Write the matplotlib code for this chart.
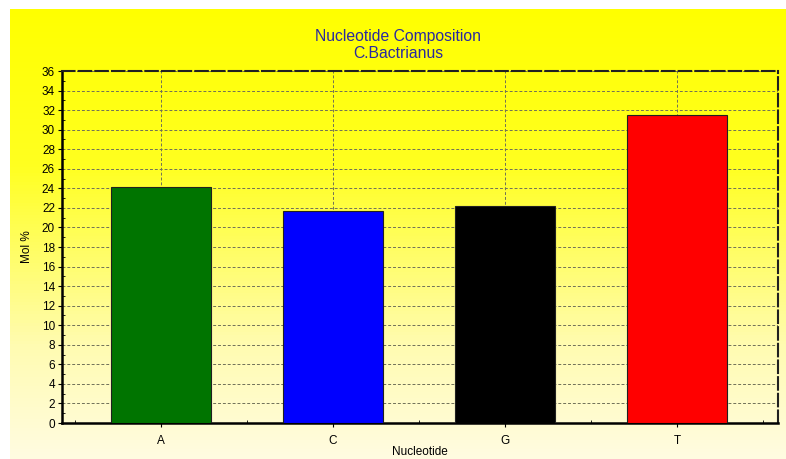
import numpy as np
import matplotlib
matplotlib.use("Agg")
import matplotlib.pyplot as plt
from matplotlib.colors import LinearSegmentedColormap

plt.rcParams['font.family'] = ['Liberation Sans', 'DejaVu Sans']

nucleotides = ['A', 'C', 'G', 'T']
mol_percent = [24.1, 21.7, 22.2, 31.5]
bar_colors = ['#007400', '#0000ff', '#000000', '#ff0000']
y_ticks = list(range(0, 37, 2))

W, H = 786, 459
fig = plt.figure(figsize=(W / 100, H / 100), dpi=100)
fig.patch.set_facecolor('white')

# yellow -> cream gradient background, white strip at top and left
bg = fig.add_axes([10 / W, 0, 1 - 10 / W, 1 - 9 / H])
bg.set_axis_off()
bg.set_xlim(0, 1)
bg.set_ylim(0, 1)
cmap = LinearSegmentedColormap.from_list('yl', [(0.0, '#ffff00'), (0.35, '#ffff20'),
                                               (0.75, '#fffbb0'), (1.0, '#fffbe0')])
n = 150
for i in range(n):
    t = i / (n - 1)
    bg.axhspan(1 - (i + 1) / n, 1 - i / n + 0.002, color=cmap(t), lw=0)
bg.set_zorder(0)

ax = fig.add_axes([62 / W, 1 - 423 / H, (778 - 62) / W, (423 - 71) / H])
ax.set_facecolor('none')
ax.set_zorder(1)

x = np.arange(len(nucleotides))
ax.bar(x, mol_percent, width=0.58, color=bar_colors, edgecolor='#202020',
       linewidth=0.8, zorder=3)

ax.set_xlim(-0.576, 3.587)
ax.set_ylim(0, 36)
ax.set_yticks(y_ticks)
ax.set_xticks(x)
ax.set_xticklabels(nucleotides)
ax.set_xticks(np.arange(-0.5, 3.6, 0.25), minor=True)
ax.set_yticks(np.arange(0, 36.1, 1), minor=True)

ax.tick_params(axis='both', labelsize=8.5, colors='black')
ax.tick_params(axis='x', which='major', direction='out', length=3, pad=6)
ax.tick_params(axis='x', which='minor', direction='in', length=2)
ax.tick_params(axis='y', which='major', direction='out', length=3, pad=2)
ax.tick_params(axis='y', which='minor', direction='in', length=2)

ax.grid(True, which='major', color='#707058', linestyle=(0, (3, 2)),
        linewidth=0.7, zorder=1)

for side in ['left', 'bottom']:
    ax.spines[side].set_linewidth(1.8)
    ax.spines[side].set_color('black')
for side in ['top', 'right']:
    ax.spines[side].set_linewidth(1.5)
    ax.spines[side].set_color('#202020')
    ax.spines[side].set_linestyle((0, (6, 2)))

ax.set_ylabel('Mol %', fontsize=8.5, labelpad=6)
fig.text(420 / W, 1 - 452 / H, 'Nucleotide', fontsize=8.5, ha='center', va='center')

fig.text(398 / W, 1 - 37 / H, 'Nucleotide Composition', fontsize=11.3,
         color='#2a2aa0', ha='center', va='center')
fig.text(398 / W, 1 - 54 / H, 'C.Bactrianus', fontsize=11.3,
         color='#2a2aa0', ha='center', va='center')

fig.savefig('out.png', dpi=100)
